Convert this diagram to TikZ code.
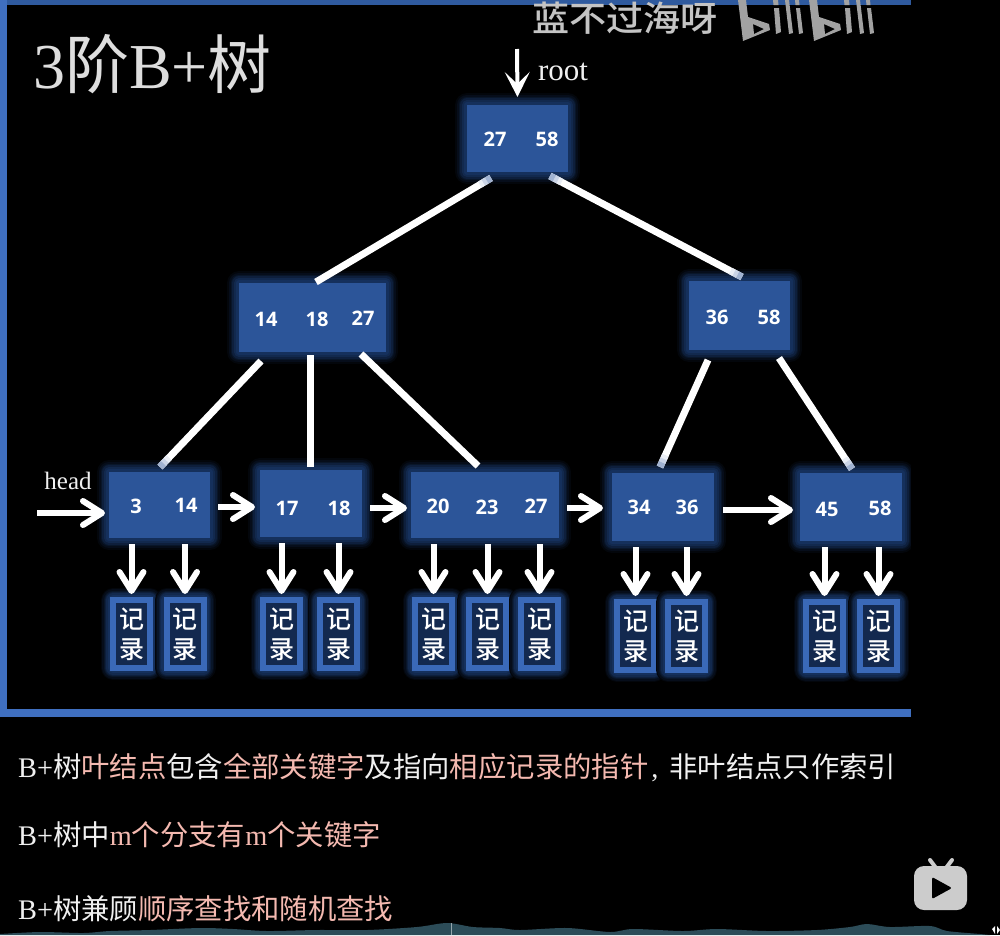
\documentclass[tikz,border=0pt]{standalone}
\usepackage{fontspec}
\setmainfont{Liberation Serif}
\newfontfamily\cjk{Noto Sans CJK SC}
\newfontfamily\cjkm{Noto Sans CJK SC Medium}
\newfontfamily\numf{Open Sans}
\usetikzlibrary{arrows.meta,calc}
\definecolor{framec}{HTML}{3F6FC0}
\definecolor{topc}{HTML}{2F5A9E}
\definecolor{boxc}{HTML}{2C5599}
\definecolor{recc}{HTML}{3A69B8}
\definecolor{recin}{HTML}{13294F}
\definecolor{glowc}{HTML}{15305C}
\definecolor{pinkc}{HTML}{F4B9B0}
\definecolor{textc}{HTML}{F0F0F0}
\definecolor{titlec}{HTML}{DEDEDE}
\definecolor{markc}{HTML}{A2A2A2}
\definecolor{wmc}{HTML}{C4C4C4}
\definecolor{wavec}{HTML}{2C4C58}
\newcommand{\zh}[1]{{\cjk #1}}
\newcommand{\pk}[1]{\textcolor{pinkc}{#1}}
\tikzset{
  x=1pt,y=-1pt,
  glowstep/.style n args={3}{preaction={draw=glowc!#3!black,line join=round,line width=#1+2*#2}},
  glowing/.style 2 args={
    glowstep={#1}{#2}{12},
    glowstep={#1}{#2*0.85}{28},
    glowstep={#1}{#2*0.7}{45},
    glowstep={#1}{#2*0.55}{65},
    glowstep={#1}{#2*0.4}{85},
    glowstep={#1}{#2*0.25}{100}},
  treebox/.style={glowing={0pt}{12pt},fill=boxc,minimum height=#1,inner sep=0pt},
  rec/.style={glowing={6pt}{9pt},fill=recin,draw=recc,line width=6pt,minimum width=37pt,minimum height=68pt,
    inner sep=0pt,text=white,align=center,font=\cjkm\fontsize{25}{30}\selectfont},
  num/.style={text=white,inner sep=0pt,font=\numf\bfseries\fontsize{20}{24}\selectfont},
  link/.style={draw=white,line width=7pt},
  flow/.style={draw=white,line width=6pt,-{Straight Barb[length=19pt,width=24pt,round]}},
  rootflow/.style={draw=white,line width=4pt,-{Stealth[length=25pt,width=25pt,inset=12pt]}},
  note/.style={anchor=base west,inner sep=0pt,text=textc,font=\fontsize{28.35}{32}\selectfont},
  band/.style={fill=#1,draw=none},
}
\newcommand{\conn}[6]{%
  \draw[link] ([shift={(#2,#3)}]#1.center) -- ([shift={(#5,#6)}]#4.center);}
% soft end of a link: first end (#1,#2,#3) towards the other end (#4,#5,#6)
\newcommand{\soft}[6]{%
  \foreach \a/\b/\m in {9/13/90,5/9/75,0/5/55}
    \draw[draw=white!\m!boxc,line width=7pt]
      ($([shift={(#2,#3)}]#1.center)!\a pt!([shift={(#5,#6)}]#4.center)$) --
      ($([shift={(#2,#3)}]#1.center)!\b pt!([shift={(#5,#6)}]#4.center)$);}
\newcommand{\recarrow}[2]{\draw[flow] (#2.center |- #1.south) ++(0,6) -- ([yshift=3pt]#2.north);}
\begin{document}
\begin{tikzpicture}
\useasboundingbox (0,0) rectangle (1000,935);
\fill[black] (0,0) rectangle (1000,935);

% tree boxes
\node[treebox=67pt,minimum width=101pt] (root) at (517.5,138.5) {};
\node[treebox=69pt,minimum width=147pt] (inl) at (312.5,317.5) {};
\node[treebox=69pt,minimum width=101pt] (inr) at (739.5,315.5) {};
\node[treebox=66pt,minimum width=101pt] (la) at (159.5,505) {};
\node[treebox=67pt,minimum width=102pt] (lb) at (311,503.5) {};
\node[treebox=66pt,minimum width=148pt] (lc) at (485,505) {};
\node[treebox=68pt,minimum width=102pt] (ld) at (663,507) {};
\node[treebox=68pt,minimum width=102pt] (le) at (851,507) {};

% records
\foreach \n/\x/\y in {ra/131.5/634,rb/185/634,rc/281.5/634,rd/338.5/634,re/433.5/634,rf/487.5/634,rg/539.5/634,rh/635.5/636,ri/686.5/636,rj/824.5/636,rk/878.5/636}
  \node[rec] (\n) at (\x,\y) {记\\录};

% keys
\foreach \n/\x/\y/\t in {ka/495/139/27,kb/547/139/58,kc/266/319/14,kd/317/319/18,ke/363/318/27,kf/717/317/36,kg/769/317/58,
  kh/136/506/3,ki/186/505/14,kj/287/508/17,kk/339/508/18,kl/438/506/20,km/487/507/23,kn/536/506/27,ko/639/507/34,kp/687/507/36,kq/827/509/45,kr/880/508/58}
  \node[num] (\n) at (\x,\y) {\t};

% tree links
\conn{root}{-26.5}{39.5}{inl}{3.5}{-35.5}
\conn{root}{32.5}{37.5}{inr}{2.5}{-38.5}
\conn{inl}{-51.5}{43.5}{la}{0.5}{-38}
\conn{inl}{-2.5}{37.5}{lb}{-1}{-36.5}
\conn{inl}{48.5}{36.5}{lc}{-7}{-39}
\conn{inr}{-31.5}{44.5}{ld}{-3}{-40}
\conn{inr}{39.5}{42.5}{le}{1}{-38}
\soft{root}{-26.5}{39.5}{inl}{3.5}{-35.5}
\soft{root}{32.5}{37.5}{inr}{2.5}{-38.5}
\soft{inr}{2.5}{-38.5}{root}{32.5}{37.5}
\soft{la}{0.5}{-38}{inl}{-51.5}{43.5}
\soft{ld}{-3}{-40}{inr}{-31.5}{44.5}
\soft{le}{1}{-38}{inr}{39.5}{42.5}

% root and head
\coordinate (rootin) at (517,49);
\coordinate (headin) at (37,513);
\draw[rootflow] (rootin) -- ([shift={(0,-41.5)}]root.center);
\node[text=textc,inner sep=0pt,font=\fontsize{31}{34}\selectfont] (rootlabel) at (563,72) {root};
\node[text=textc,inner sep=0pt,font=\fontsize{25}{28}\selectfont] (headlabel) at (68,481) {head};

% leaf chain
\draw[flow] (headin) -- ([shift={(-54.5,8)}]la.center);
\draw[flow] ([shift={(58.5,2)}]la.center) -- ([shift={(-56,3.5)}]lb.center);
\draw[flow] ([shift={(59,4.5)}]lb.center) -- ([shift={(-78,3)}]lc.center);
\draw[flow] ([shift={(82,3)}]lc.center) -- ([shift={(-60,1)}]ld.center);
\draw[flow] ([shift={(60,3)}]ld.center) -- ([shift={(-58,3)}]le.center);

% record pointers
\recarrow{la}{ra}\recarrow{la}{rb}
\recarrow{lb}{rc}\recarrow{lb}{rd}
\recarrow{lc}{re}\recarrow{lc}{rf}\recarrow{lc}{rg}
\recarrow{ld}{rh}\recarrow{ld}{ri}
\recarrow{le}{rj}\recarrow{le}{rk}

% frame
\fill[black] (911,0) rectangle (1000,717);
\fill[band=topc] (0,0) rectangle (911,5);
\fill[band=framec] (0,0) rectangle (7,717);
\fill[band=framec] (0,709) rectangle (911,717);

% title
\node[anchor=base west,inner sep=0pt,text=titlec,font=\fontsize{64}{68}\selectfont] (title) at (33,88)
  {3\zh{阶}B+\zh{树}};

% notes
\node[note] (notea) at (18,777) {B+\zh{树}\pk{\zh{叶结点}}\zh{包含}\pk{\zh{全部关键字}}\zh{及指向}\pk{\zh{相应记录的指针}}\hspace{3pt},\hspace{11pt}\zh{非叶结点只作索引}};
\node[note] (noteb) at (18,845) {B+\zh{树中}\pk{m\zh{个分支有}m\zh{个关键字}}};
\node[note] (notec) at (18,919) {B+\zh{树兼顾}\pk{\zh{顺序查找和随机查找}}};

% watermark
\node[anchor=base west,inner sep=0pt,text=wmc,xscale=1.06,transform shape,font=\cjkm\fontsize{35}{38}\selectfont] (wm) at (532,31) {蓝不过海呀};
\foreach \dx in {0,71}{
  \begin{scope}[shift={(\dx,0)}]
  \fill[markc,even odd rule] (738,0) -- (746,0) -- (748,17) -- (769,24) -- (770,30) -- (743,41) -- cycle
     (753,24) -- (764,29) -- (754,34) -- cycle;
  \fill[markc] (774,8) -- (779,8) -- (781,32) -- (776,34) -- cycle;
  \fill[markc] (773,0) -- (778,0) -- (778.5,5) -- (773.5,5) -- cycle;
  \fill[markc] (785,0) -- (789,0) -- (793,33) -- (789,34) -- cycle;
  \fill[markc] (796,8) -- (800,8) -- (803,33) -- (799,34) -- cycle;
  \fill[markc] (795,0) -- (799,0) -- (799.5,5) -- (795.5,5) -- cycle;
  \end{scope}
}

% play badge
\fill[white!80!black,rounded corners=10pt] (914,866) rectangle (967,910);
\draw[white!80!black,line width=4pt,line cap=round] (930,860) -- (936,868) (952,860) -- (946,868);
\fill[black,rounded corners=2pt] (932,877) -- (952,888) -- (932,899) -- cycle;

% progress wave
\fill[wavec] plot[smooth,tension=.5] coordinates {(0,934) (40,932) (83,933) (110,931) (150,930) (200,928) (233,929) (267,931) (317,930) (367,930) (417,927) (447,923) (473,927) (500,928) (520,930) (567,928) (610,932) (633,929) (683,931) (717,929) (767,931) (817,930) (850,927) (867,924) (890,927) (930,926) (947,931) (980,934) (990,935)} -- (0,935) -- cycle;
\draw[white!50!wavec,line width=1pt] (451,923) -- (451,935);
\fill[white] (992,929) -- (995,926) -- (995,934) -- cycle (997,926) -- (1000,930) -- (997,934) -- cycle;
\end{tikzpicture}
\end{document}
